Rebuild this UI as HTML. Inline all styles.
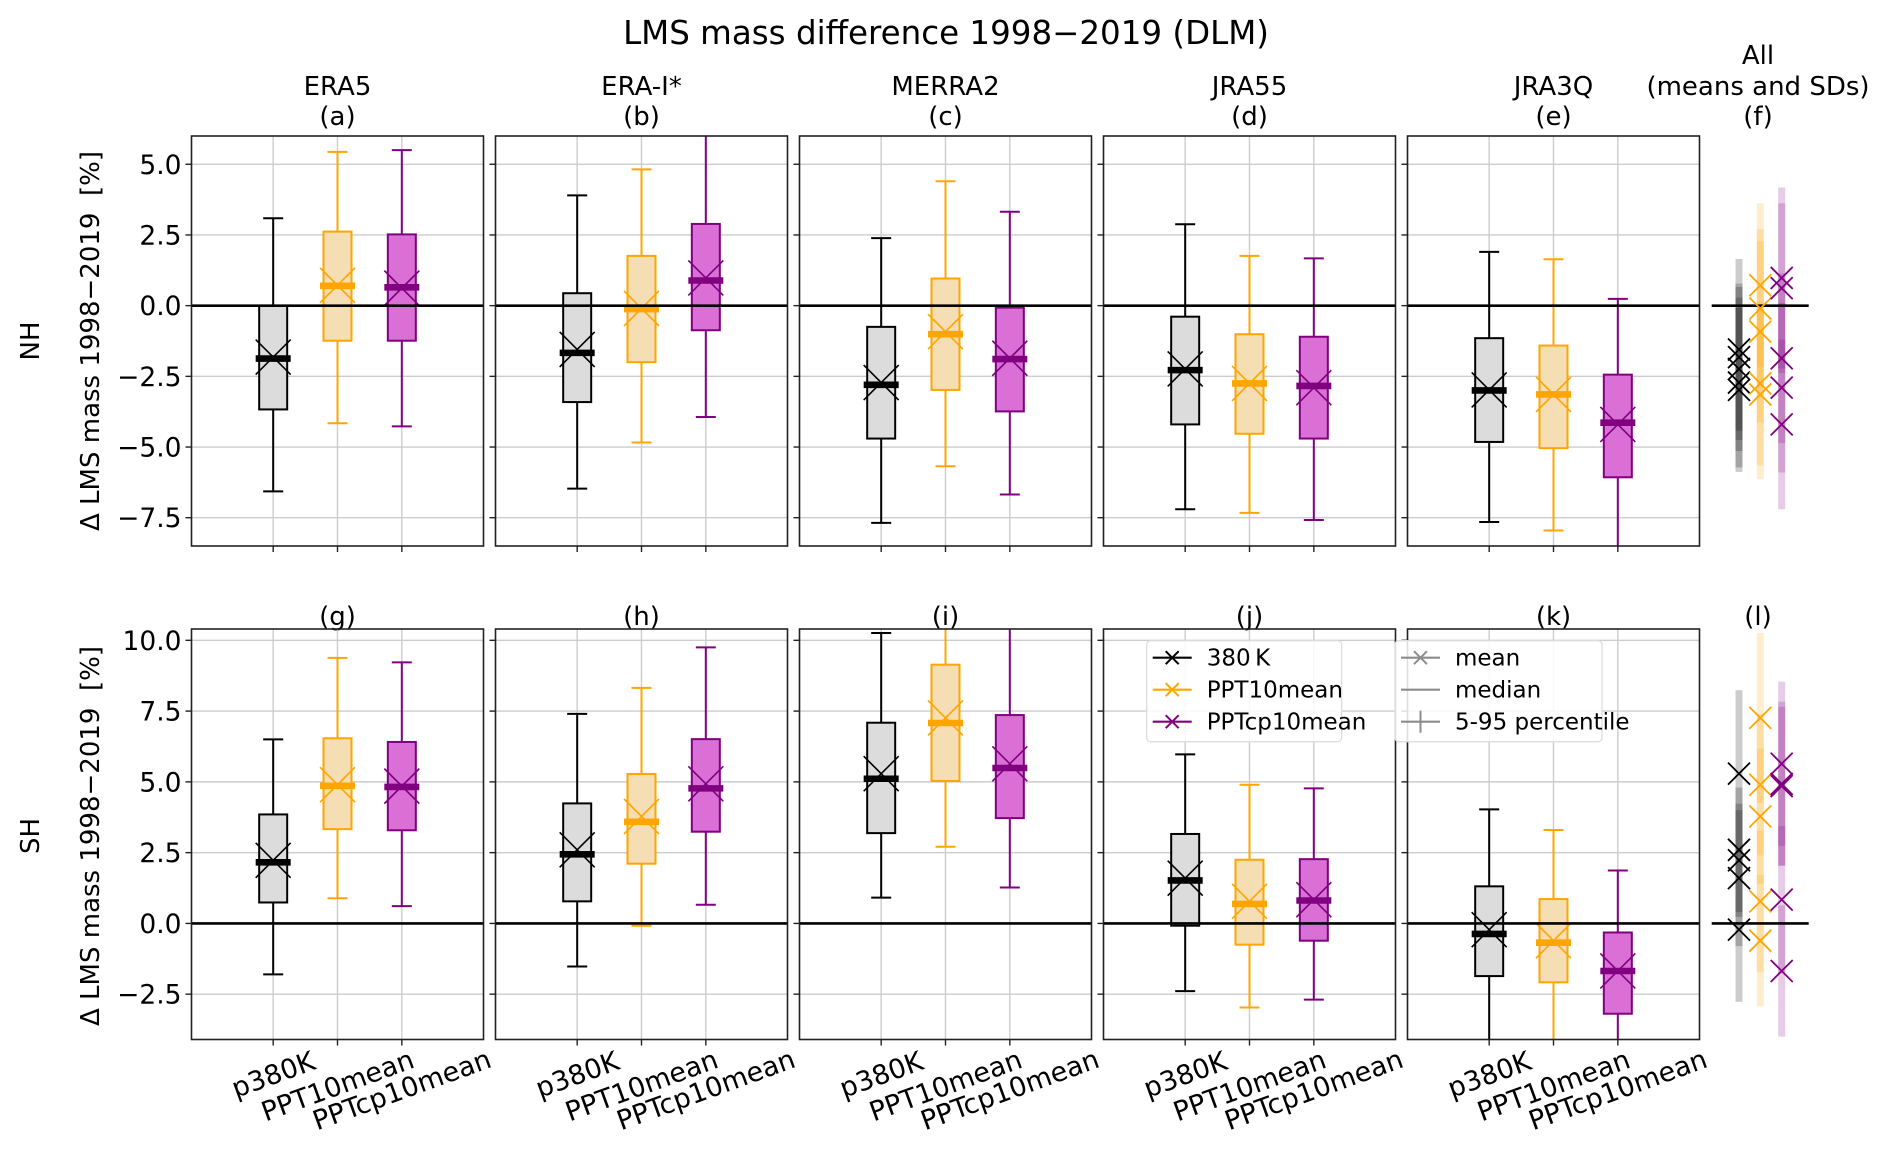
<!DOCTYPE html>
<html><head><meta charset="utf-8"><style>
html,body{margin:0;padding:0;background:#fff}
svg{display:block;font-family:"DejaVu Sans","Liberation Sans",sans-serif}
</style></head><body>
<svg id="fig" xmlns="http://www.w3.org/2000/svg" width="1892" height="1155" viewBox="0 0 1892 1155">
<rect width="1892" height="1155" fill="#fff"/>
<text x="946" y="44" font-size="32.5" text-anchor="middle">LMS mass difference 1998−2019 (DLM)</text>
<text transform="translate(39,341) rotate(-90)" font-size="26" text-anchor="middle">NH</text>
<text transform="translate(39,836) rotate(-90)" font-size="26" text-anchor="middle">SH</text>
<text transform="translate(99,341) rotate(-90)" font-size="26" text-anchor="middle">Δ LMS mass 1998−2019 &#160;[%]</text>
<text transform="translate(99,836) rotate(-90)" font-size="26" text-anchor="middle">Δ LMS mass 1998−2019 &#160;[%]</text>
<g id="content"></g>
</svg>
<script>
// ---- data ----
const datasets = ['ERA5','ERA-I*','MERRA2','JRA55','JRA3Q'];
const topLetters = ['(a)','(b)','(c)','(d)','(e)'];
const botLetters = ['(g)','(h)','(i)','(j)','(k)'];
const methods = ['p380K','PPT10mean','PPTcp10mean'];
const legendNames = ['380\u2009K','PPT10mean','PPTcp10mean'];
const nhTicks = [-7.5,-5,-2.5,0,2.5,5];
const shTicks = [-2.5,0,2.5,5,7.5,10];
// NH per dataset: [p380K, PPT10mean, PPTcp10mean]
const nhLow  = [[-6.57,-4.16,-4.27],[-6.47,-4.84,-3.94],[-7.68,-5.68,-6.68],[-7.2,-7.33,-7.58],[-7.65,-7.95,-8.9]];
const nhQ1   = [[-3.67,-1.24,-1.24],[-3.41,-2.0,-0.87],[-4.7,-2.98,-3.74],[-4.2,-4.53,-4.7],[-4.82,-5.04,-6.07]];
const nhMed  = [[-1.87,0.7,0.65],[-1.67,-0.12,0.89],[-2.8,-1.01,-1.89],[-2.28,-2.75,-2.84],[-3.0,-3.14,-4.14]];
const nhQ3   = [[0.0,2.62,2.52],[0.44,1.76,2.89],[-0.75,0.96,-0.07],[-0.39,-1.01,-1.1],[-1.15,-1.41,-2.44]];
const nhHigh = [[3.09,5.44,5.5],[3.9,4.82,6.3],[2.39,4.4,3.32],[2.88,1.76,1.67],[1.9,1.64,0.24]];
const nhMean = [[-1.82,0.72,0.62],[-1.55,-0.1,0.98],[-2.72,-0.92,-1.86],[-2.24,-2.75,-2.9],[-2.98,-3.14,-4.2]];
const nhSD   = [[2.6,2.9,3.0],[3.2,2.8,3.2],[3.0,3.2,3.0],[2.9,2.9,3.0],[2.9,3.0,3.0]];
// SH
const shLow  = [[-1.8,0.89,0.61],[-1.52,-0.08,0.66],[0.91,2.71,1.27],[-2.39,-2.97,-2.69],[-4.5,-4.5,-4.6]];
const shQ1   = [[0.74,3.33,3.29],[0.78,2.11,3.24],[3.19,5.03,3.72],[-0.08,-0.75,-0.61],[-1.86,-2.08,-3.19]];
const shMed  = [[2.16,4.86,4.82],[2.44,3.59,4.77],[5.11,7.08,5.49],[1.52,0.69,0.81],[-0.37,-0.68,-1.68]];
const shQ3   = [[3.85,6.54,6.41],[4.24,5.28,6.51],[7.09,9.14,7.36],[3.16,2.25,2.27],[1.31,0.86,-0.32]];
const shHigh = [[6.5,9.38,9.22],[7.4,8.32,9.75],[10.26,10.9,10.9],[5.97,4.9,4.77],[4.03,3.3,1.87]];
const shMean = [[2.23,4.9,4.85],[2.6,3.78,4.93],[5.29,7.26,5.64],[1.6,0.78,0.84],[-0.22,-0.61,-1.68]];
const shSD   = [[2.0,2.5,2.8],[2.2,2.4,2.9],[2.95,3.0,2.9],[2.4,2.5,2.6],[2.55,2.32,2.32]];

// ---- layout ----
const NS='http://www.w3.org/2000/svg';
const root=document.getElementById('content');
const edgeC=['#000000','#ffa500','#800080'];
const faceC=['#dcdcdc','#f5deb3','#da70d6'];
const rows=[
 {top:136,bottom:546,ymin:-8.5,ymax:6.0,ticks:nhTicks,low:nhLow,q1:nhQ1,med:nhMed,q3:nhQ3,high:nhHigh,mean:nhMean,sd:nhSD,letters:topLetters,key:'nh'},
 {top:629,bottom:1039.5,ymin:-4.1,ymax:10.4,ticks:shTicks,low:shLow,q1:shQ1,med:shMed,q3:shQ3,high:shHigh,mean:shMean,sd:shSD,letters:botLetters,key:'sh'}
];
const PW=292, PSTEP=304, PL0=191.5, XMIN=-0.27, XMAX=4.27;
function mk(tag,attrs,parent){const e=document.createElementNS(NS,tag);for(const k in attrs)e.setAttribute(k,attrs[k]);(parent||root).appendChild(e);return e;}
function fmt(v){const s=v.toFixed(1);return v<0?'\u2212'+s.slice(1):s;}
function xOf(p,pos){return PL0+p*PSTEP+(pos-XMIN)/(XMAX-XMIN)*PW;}
function yOf(r,v){return r.top+(r.ymax-v)/(r.ymax-r.ymin)*(r.bottom-r.top);}
function xMark(g,cx,cy,s,color,w){
  return mk('path',{d:`M${cx-s/2},${cy-s/2}L${cx+s/2},${cy+s/2}M${cx-s/2},${cy+s/2}L${cx+s/2},${cy-s/2}`,stroke:color,'stroke-width':w,fill:'none'},g);
}
const defs=mk('defs',{});
rows.forEach((r,ri)=>{
  for(let p=0;p<5;p++){
    const left=PL0+p*PSTEP, cx=left+PW/2;
    const g=mk('g',{});
    
    
    const cp=mk('clipPath',{id:`cp${ri}${p}`},defs);
    mk('rect',{x:left,y:r.top,width:PW,height:r.bottom-r.top},cp);
    if(ri===0){
      const t=mk('text',{x:cx,y:95,'font-size':26,'text-anchor':'middle'},g);t.textContent=datasets[p];
      
    }
    const tl=mk('text',{x:cx,y:ri===0?125:625,'font-size':26,'text-anchor':'middle'},g);tl.textContent=r.letters[p];
    
    const inner=mk('g',{'clip-path':`url(#cp${ri}${p})`},g);
    r.ticks.forEach(v=>{const y=yOf(r,v);mk('line',{x1:left,x2:left+PW,y1:y,y2:y,stroke:'#cccccc','stroke-width':1.4},inner);});
    for(let m=0;m<3;m++){const x=xOf(p,m+1);mk('line',{x1:x,x2:x,y1:r.top,y2:r.bottom,stroke:'#cccccc','stroke-width':1.4},inner);}
    for(let m=0;m<3;m++){
      const x=xOf(p,m+1), bw=28, cw=20;
      const bg=mk('g',{},inner);
      
      
      const yl=yOf(r,r.low[p][m]), y1=yOf(r,r.q1[p][m]), y3=yOf(r,r.q3[p][m]), yh=yOf(r,r.high[p][m]), ym=yOf(r,r.med[p][m]), ymean=yOf(r,r.mean[p][m]);
      mk('line',{x1:x,x2:x,y1:yh,y2:y3,stroke:edgeC[m],'stroke-width':2},bg);
      mk('line',{x1:x,x2:x,y1:y1,y2:yl,stroke:edgeC[m],'stroke-width':2},bg);
      mk('line',{x1:x-cw/2,x2:x+cw/2,y1:yh,y2:yh,stroke:edgeC[m],'stroke-width':2},bg);
      mk('line',{x1:x-cw/2,x2:x+cw/2,y1:yl,y2:yl,stroke:edgeC[m],'stroke-width':2},bg);
      mk('rect',{x:x-bw/2,y:y3,width:bw,height:y1-y3,fill:faceC[m],stroke:edgeC[m],'stroke-width':2},bg);
      mk('line',{x1:x-17.5,x2:x+17.5,y1:ym,y2:ym,stroke:edgeC[m],'stroke-width':6.6},bg);
      xMark(bg,x,ymean,35,edgeC[m],1.6);
    }
    const y0=yOf(r,0);
    const zl=mk('line',{x1:left,x2:left+PW,y1:y0,y2:y0,stroke:'#000','stroke-width':2.6},g);
    
    mk('rect',{x:left,y:r.top,width:PW,height:r.bottom-r.top,fill:'none',stroke:'#222','stroke-width':1.6},g);
    r.ticks.forEach(v=>{const y=yOf(r,v);mk('line',{x1:left-6,x2:left,y1:y,y2:y,stroke:'#222','stroke-width':1.4},g);
      if(p===0){const t=mk('text',{x:left-10,y:y+9.5,'font-size':26.5,'text-anchor':'end'},g);t.textContent=fmt(v);
        }});
    for(let m=0;m<3;m++){const x=xOf(p,m+1);mk('line',{x1:x,x2:x,y1:r.bottom,y2:r.bottom+6,stroke:'#222','stroke-width':1.4},g);
      if(ri===1){
        const w=[74,138,163][m], off=(w*Math.sin(20*Math.PI/180)+26*Math.cos(20*Math.PI/180))/2;
        const cy=r.bottom+10+off;
        const t=mk('text',{x:x,y:cy+9.5,'font-size':27,'text-anchor':'middle',transform:`rotate(-20 ${x} ${cy})`},g);t.textContent=methods[m];
        
      }}
  }
  const fg=mk('g',{});
  
  
  const fx=[1739,1760.3,1781.7];
  if(ri===0){
    [['All',64],['(means and SDs)',95],['(f)',125]].forEach(([s,y])=>{const t=mk('text',{x:1758,y:y,'font-size':26,'text-anchor':'middle'},fg);t.textContent=s;
      });
  } else {
    const t=mk('text',{x:1758,y:625,'font-size':26,'text-anchor':'middle'},fg);t.textContent='(l)';
    
  }
  for(let m=0;m<3;m++){
    for(let p=0;p<5;p++){
      const mu=r.mean[p][m], s=r.sd[p][m];
      const b=mk('rect',{x:fx[m]-3.5,y:yOf(r,mu+s),width:7,height:yOf(r,mu-s)-yOf(r,mu+s),fill:edgeC[m],'fill-opacity':0.2},fg);
      
    }
  }
  const y0=yOf(r,0);
  mk('line',{x1:1711.7,x2:1808.7,y1:y0,y2:y0,stroke:'#000','stroke-width':2.6},fg);
  for(let m=0;m<3;m++){
    for(let p=0;p<5;p++){
      const xm=xMark(fg,fx[m],yOf(r,r.mean[p][m]),22,edgeC[m],1.8);
      
    }
  }
});
function legend(x,y,w,entries,name){
  const g=mk('g',{});
  
  
  mk('rect',{x:x,y:y,width:w,height:101,rx:4,fill:'#fff','fill-opacity':0.85,stroke:'#dddddd','stroke-width':1.3},g);
  entries.forEach((e,i)=>{
    const cy=y+17+i*32, hx=x+6;
    mk('line',{x1:hx,x2:hx+39,y1:cy,y2:cy,stroke:e.c,'stroke-width':2.2},g);
    if(e.t==='x') xMark(g,hx+19.5,cy,13,e.c,2);
    if(e.t==='p') mk('line',{x1:hx+19.5,x2:hx+19.5,y1:cy-11,y2:cy+11,stroke:e.c,'stroke-width':2},g);
    const t=mk('text',{x:x+60,y:cy+8,'font-size':23},g);t.textContent=e.s;
    
  });
}
legend(1146.7,640.7,195,legendNames.map((s,i)=>({s:s,c:edgeC[i],t:'x'})),'legend-methods');
legend(1395,640.7,207,[{s:'mean',c:'#8c8c8c',t:'x'},{s:'median',c:'#8c8c8c',t:'l'},{s:'5-95 percentile',c:'#8c8c8c',t:'p'}],'legend-statistics');
</script>
</body></html>
